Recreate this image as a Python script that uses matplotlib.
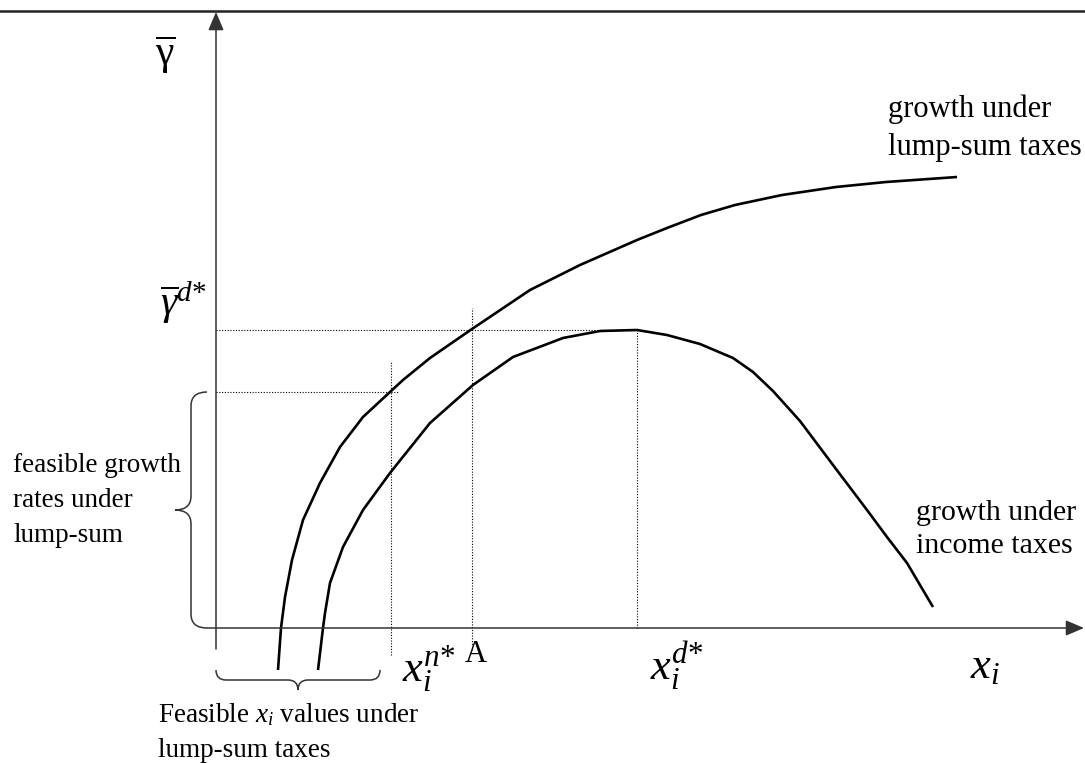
import matplotlib
matplotlib.use('Agg')
import matplotlib.pyplot as plt
from matplotlib.path import Path
from matplotlib.patches import PathPatch
import numpy as np

plt.rcParams['font.family'] = ['Liberation Serif', 'DejaVu Serif']
plt.rcParams['mathtext.fontset'] = 'custom'
plt.rcParams['mathtext.rm'] = 'Liberation Serif'
plt.rcParams['mathtext.it'] = 'Liberation Serif:italic'

# curves (x_i along the axis, growth rate up the axis)
lump_x = [62, 65, 69, 76, 87, 104, 124, 147, 174, 187, 214, 256, 314, 364, 421, 451, 485, 519, 566, 620, 670, 741]
lump_y = [-42, 0, 31, 68, 108, 145, 181, 211, 236, 248, 270, 299, 338, 363, 388, 400, 413, 423, 433, 441, 446, 451]
income_x = [102, 107, 109, 114, 127, 147, 174, 214, 257, 297, 347, 384, 421, 451, 484, 517, 537,
            557, 584, 617, 651, 671, 691, 717]
income_y = [-42, 0, 15, 45, 81, 118, 155, 205, 243, 271, 290, 297, 298, 293, 284, 270, 256,
            237, 207, 163, 118, 91, 65, 21]

# reference points on the axes
x_n, x_A, x_d = 175, 256, 421
gamma_n, gamma_d = 236, 298
x_max, y_max = 868, 616

fig = plt.figure(figsize=(10.85, 7.63), dpi=100)
ax = fig.add_axes([0, 0, 1, 1])
ax.set_xlim(-216, 869)
ax.set_ylim(-135, 628)
ax.axis('off')

axis_col = '#333333'
arrow = dict(arrowstyle='-|>,head_length=0.8,head_width=0.34', mutation_scale=14,
             lw=1.1, color=axis_col, shrinkA=0, shrinkB=0)
ax.annotate('', xy=(0, y_max), xytext=(0, -21), arrowprops=arrow)
ax.annotate('', xy=(x_max, 0), xytext=(-9, 0), arrowprops=arrow)

# rule at the top of the page
ax.plot([-216, 869], [617, 617], color='#222222', lw=1.8)

# dotted guides
dot = dict(color='black', lw=0.8, ls=(0, (1, 1.5)))
ax.plot([0, x_d], [gamma_d, gamma_d], **dot)
ax.plot([0, x_n + 7], [gamma_n, gamma_n], **dot)
ax.plot([x_n, x_n], [-27, gamma_n + 30], **dot)
ax.plot([x_A, x_A], [-22, gamma_d + 22], **dot)
ax.plot([x_d, x_d], [0, gamma_d], **dot)

ax.plot(lump_x, lump_y, color='black', lw=1.9, solid_capstyle='butt', solid_joinstyle='round')
ax.plot(income_x, income_y, color='black', lw=1.9, solid_capstyle='butt', solid_joinstyle='round')


def brace(a, b, n, s, d, r):
    a, b, n = np.array(a, float), np.array(b, float), np.array(n, float)
    t = (b - a) / np.linalg.norm(b - a)
    m = (a + b) / 2
    verts = [a, a + n * s, a + n * s + t * r,
             m + n * s - t * r, m + n * s, m + n * d,
             m + n * s, m + n * s + t * r,
             b + n * s - t * r, b + n * s, b]
    codes = [Path.MOVETO, Path.CURVE3, Path.CURVE3, Path.LINETO,
             Path.CURVE3, Path.CURVE3, Path.CURVE3, Path.CURVE3,
             Path.LINETO, Path.CURVE3, Path.CURVE3]
    ax.add_patch(PathPatch(Path(verts, codes), fill=False, lw=1.1, color=axis_col))


brace((-9, gamma_n), (-9, 0), (-1, 0), 16, 32, 14)
brace((0, -42), (164, -42), (0, -1), 10, 20, 10)

fs = 19.5
ax.text(-51, 563, r'$\overline{\mathrm{\gamma}}$', fontsize=30, ha='center', va='baseline')
ax.text(-56, 313, r'$\overline{\gamma}^{d{*}}$', fontsize=30, ha='left', va='baseline')
ax.text(186, -54, r'$x_i^{n{*}}$', fontsize=32, ha='left', va='baseline')
ax.text(249, -34, 'A', fontsize=22, ha='left', va='baseline')
ax.text(434, -52, r'$x_i^{d{*}}$', fontsize=32, ha='left', va='baseline')
ax.text(754, -50, r'$x_i$', fontsize=32, ha='left', va='baseline')

ax.text(-203, 86, 'feasible growth\nrates under\nlump-sum', fontsize=fs,
        ha='left', va='baseline', linespacing=1.52)
ax.text(672, 473, 'growth under\nlump-sum taxes', fontsize=22,
        ha='left', va='baseline', linespacing=1.4)
ax.text(700, 75, 'growth under\nincome taxes', fontsize=21.5,
        ha='left', va='baseline', linespacing=1.37)
ax.text(-58, -129, 'Feasible $x_i$ values under\nlump-sum taxes', fontsize=fs,
        ha='left', va='baseline', linespacing=1.52)

fig.savefig('out.png', dpi=100)
